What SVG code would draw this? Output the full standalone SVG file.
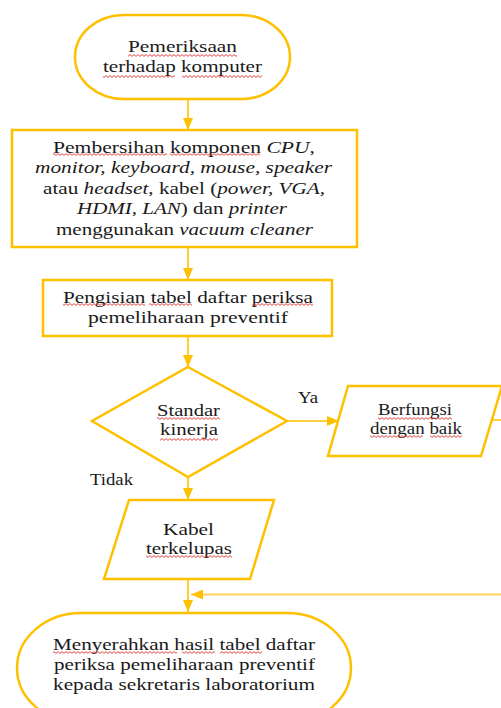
<svg xmlns="http://www.w3.org/2000/svg" width="501" height="708" viewBox="0 0 501 708">
  <defs>
    <style>
      .shape { fill: #ffffff; stroke: #ffc000; stroke-width: 2.5; }
      .link { fill: none; stroke: #ffc000; stroke-width: 1.6; }
      .link-soft { fill: none; stroke: #ffd45c; stroke-width: 1.8; }
      .t { font-family: "Liberation Serif", "Times New Roman", serif; font-size: 17.5px; fill: #1a1a1a; }
      .i { font-style: italic; }
      .sq { fill: url(#squiggle); }
    </style>
    <marker id="arrow" viewBox="0 0 12 10" refX="12" refY="5" markerWidth="12" markerHeight="10" markerUnits="userSpaceOnUse" orient="auto">
      <path d="M0,0 L12,5 L0,10 Z" fill="#ffc000"/>
    </marker>
    <!-- wavy spell-check underline tile -->
    <pattern id="squiggle" patternUnits="userSpaceOnUse" width="4" height="3">
      <path d="M0,2.4 L2,0.6 L4,2.4" fill="none" stroke="#e0302a" stroke-width="0.9"/>
    </pattern>
  </defs>

  <rect width="501" height="708" fill="#ffffff"/>

  <!-- connectors -->
  <g id="connectors">
    <line class="link" x1="188" y1="99" x2="188" y2="130" marker-end="url(#arrow)"/>
    <line class="link" x1="188" y1="248" x2="188" y2="280" marker-end="url(#arrow)"/>
    <line class="link" x1="188" y1="336" x2="188" y2="367" marker-end="url(#arrow)"/>
    <line class="link" x1="287" y1="421" x2="339" y2="421" marker-end="url(#arrow)"/>
    <line class="link" x1="188" y1="477" x2="188" y2="500" marker-end="url(#arrow)"/>
    <line class="link" x1="188" y1="580" x2="188" y2="612" marker-end="url(#arrow)"/>
    <line class="link-soft" x1="501" y1="594.5" x2="191" y2="594.5" marker-end="url(#arrow)"/>
    <line class="link" x1="491" y1="420" x2="501" y2="420"/>
  </g>

  <!-- start -->
  <g id="start">
    <rect class="shape" x="75" y="15" width="215" height="84" rx="49" ry="42"/>
    <text class="t" x="128" y="52" textLength="109" lengthAdjust="spacingAndGlyphs">Pemeriksaan</text>
    <text class="t" x="103" y="72" textLength="159" lengthAdjust="spacingAndGlyphs">terhadap komputer</text>
    <rect class="sq" x="128" y="54" width="109" height="3"/>
    <rect class="sq" x="103" y="75" width="72" height="3"/>
    <rect class="sq" x="182" y="75" width="80" height="3"/>
  </g>

  <!-- cleaning step -->
  <g id="cleaning">
    <rect class="shape" x="12" y="130" width="345" height="117"/>
    <text class="t" x="53" y="153" textLength="262" lengthAdjust="spacingAndGlyphs">Pembersihan komponen <tspan class="i">CPU</tspan>,</text>
    <text class="t i" x="35" y="173" textLength="297" lengthAdjust="spacingAndGlyphs">monitor, keyboard, mouse, speaker</text>
    <text class="t" x="43" y="194" textLength="282" lengthAdjust="spacingAndGlyphs">atau <tspan class="i">headset</tspan>, kabel (<tspan class="i">power, VGA,</tspan></text>
    <text class="t" x="77" y="214" textLength="210" lengthAdjust="spacingAndGlyphs"><tspan class="i">HDMI, LAN</tspan>) dan <tspan class="i">printer</tspan></text>
    <text class="t" x="56" y="235" textLength="257" lengthAdjust="spacingAndGlyphs">menggunakan <tspan class="i">vacuum cleaner</tspan></text>
    <rect class="sq" x="53" y="153" width="114" height="3"/>
    <rect class="sq" x="170" y="153" width="90" height="3"/>
  </g>

  <!-- checklist step -->
  <g id="checklist">
    <rect class="shape" x="43" y="280" width="289" height="56"/>
    <text class="t" x="63" y="303" textLength="250" lengthAdjust="spacingAndGlyphs">Pengisian tabel daftar periksa</text>
    <text class="t" x="88" y="323" textLength="200" lengthAdjust="spacingAndGlyphs">pemeliharaan preventif</text>
    <rect class="sq" x="63" y="303" width="82" height="3"/>
    <rect class="sq" x="149" y="303" width="43" height="3"/>
    <rect class="sq" x="252" y="303" width="61" height="3"/>
  </g>

  <!-- decision -->
  <g id="decision">
    <polygon class="shape" points="188,367 287,421 188,477 92,421"/>
    <text class="t" x="157" y="416" textLength="63" lengthAdjust="spacingAndGlyphs">Standar</text>
    <text class="t" x="160" y="435" textLength="58" lengthAdjust="spacingAndGlyphs">kinerja</text>
    <rect class="sq" x="157" y="417" width="63" height="3"/>
    <rect class="sq" x="160" y="438" width="58" height="3"/>
  </g>

  <!-- branch labels -->
  <g id="labels">
    <text class="t" x="298" y="403" textLength="20" lengthAdjust="spacingAndGlyphs">Ya</text>
    <text class="t" x="90" y="485" textLength="43" lengthAdjust="spacingAndGlyphs">Tidak</text>
  </g>

  <!-- result: working -->
  <g id="working">
    <polygon class="shape" points="348,386 502,386 481,456 328,456"/>
    <text class="t" x="378" y="415" textLength="74" lengthAdjust="spacingAndGlyphs">Berfungsi</text>
    <text class="t" x="370" y="434" textLength="92" lengthAdjust="spacingAndGlyphs">dengan baik</text>
    <rect class="sq" x="378" y="417" width="74" height="3"/>
    <rect class="sq" x="370" y="435" width="53" height="3"/>
    <rect class="sq" x="430" y="435" width="32" height="3"/>
  </g>

  <!-- result: cable damage -->
  <g id="cable">
    <polygon class="shape" points="129,500 274,500 250,579 104,579"/>
    <text class="t" x="163" y="535" textLength="51" lengthAdjust="spacingAndGlyphs">Kabel</text>
    <text class="t" x="146" y="554" textLength="86" lengthAdjust="spacingAndGlyphs">terkelupas</text>
    <rect class="sq" x="146" y="555" width="86" height="3"/>
  </g>

  <!-- end -->
  <g id="end">
    <rect class="shape" x="17" y="613" width="334" height="110" rx="64" ry="55"/>
    <text class="t" x="53" y="650" textLength="262" lengthAdjust="spacingAndGlyphs">Menyerahkan hasil tabel daftar</text>
    <text class="t" x="54" y="670" textLength="261" lengthAdjust="spacingAndGlyphs">periksa pemeliharaan preventif</text>
    <text class="t" x="53" y="690" textLength="262" lengthAdjust="spacingAndGlyphs">kepada sekretaris laboratorium</text>
    <rect class="sq" x="53" y="651" width="124" height="3"/>
    <rect class="sq" x="182" y="651" width="33" height="3"/>
    <rect class="sq" x="220" y="651" width="42" height="3"/>
  </g>
</svg>
